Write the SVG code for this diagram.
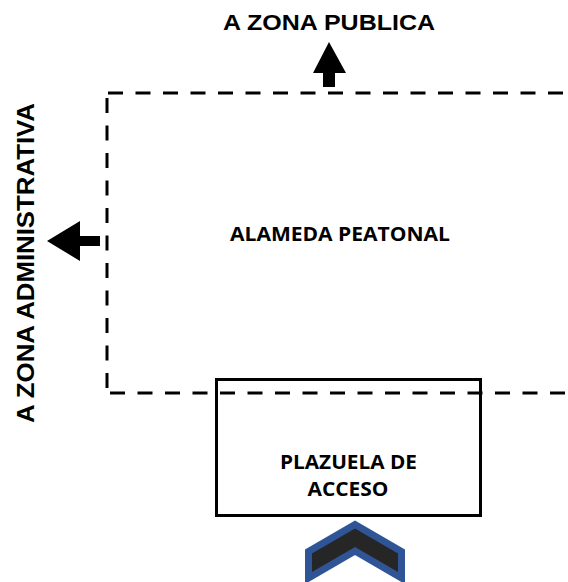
<svg xmlns="http://www.w3.org/2000/svg" width="568" height="582" viewBox="0 0 568 582">
<style>
.lbl{font-family:"Liberation Sans",Arial,sans-serif;font-weight:bold;fill:#000}
.cal{font-family:"Open Sans","Liberation Sans",sans-serif;font-weight:bold;fill:#000}
.dash{fill:none;stroke:#000;stroke-width:3;stroke-dasharray:15 12.5}
</style>
<rect width="568" height="582" fill="#fff"/>
<g id="plazuela">
<rect x="216.5" y="379.5" width="264" height="136" fill="none" stroke="#000" stroke-width="3"/>
<text class="cal" x="348.5" y="469" font-size="19" text-anchor="middle" textLength="137" lengthAdjust="spacingAndGlyphs">PLAZUELA DE</text>
<text class="cal" x="348" y="496" font-size="19" text-anchor="middle" textLength="81" lengthAdjust="spacingAndGlyphs">ACCESO</text>
</g>
<g id="alameda">
<path class="dash" d="M108 93 H568 M107 98 V393 M110 393 H568"/>
<text class="cal" x="340" y="241" font-size="19" text-anchor="middle" textLength="220" lengthAdjust="spacingAndGlyphs">ALAMEDA PEATONAL</text>
</g>
<g id="zona-publica">
<text class="lbl" x="329" y="30" font-size="21.5" text-anchor="middle" textLength="212" lengthAdjust="spacingAndGlyphs">A ZONA PUBLICA</text>
</g>
<g id="zona-administrativa">
<text class="lbl" transform="translate(34,263) rotate(-90)" x="0" y="0" font-size="23.5" text-anchor="middle" textLength="320" lengthAdjust="spacingAndGlyphs">A ZONA ADMINISTRATIVA</text>
</g>
<g id="connectors">
<polygon points="329,42 346,73 335,73 335,87 323,87 323,73 313,73" fill="#000"/>
<polygon points="47,241 80,221 80,236 100,236 100,246 80,246 80,261" fill="#000"/>
</g>
<g id="acceso-chevron">
<polygon points="355,524.5 401.5,551.5 401.5,578 355,551 308.5,578 308.5,551.5" fill="#262626" stroke="#2F5597" stroke-width="7" stroke-linejoin="miter"/>
</g>
</svg>
